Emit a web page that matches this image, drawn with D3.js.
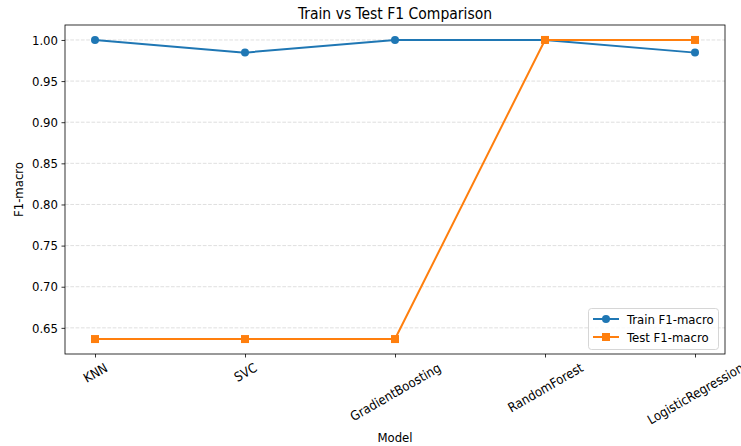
<!DOCTYPE html>
<html><head><meta charset="utf-8">
<script src="https://cdn.jsdelivr.net/npm/d3@7"></script>
<style>body{margin:0;background:#fff;} text{font-family:"DejaVu Sans Condensed","DejaVu Sans",sans-serif;font-stretch:condensed;fill:#000;}</style>
</head><body><svg id="c" width="741" height="446"></svg>
<script>
const models = ["KNN","SVC","GradientBoosting","RandomForest","LogisticRegression"];
const trainF1 = [1.0, 0.9846, 1.0, 1.0, 0.9846];
const testF1 = [0.6364, 0.6364, 0.6364, 1.0, 1.0];
const yTicks = [0.65,0.70,0.75,0.80,0.85,0.90,0.95,1.00];

const FONT = '"DejaVu Sans Condensed","DejaVu Sans",sans-serif';
const FS = 13;
const svg = d3.select("#c");
const L=65, R=725, T=25, B=354;
const allV = trainF1.concat(testF1);
const vmin = d3.min(allV), vmax = d3.max(allV), pad=(vmax-vmin)*0.05;
const x = d3.scaleLinear().domain([-0.2, models.length-1+0.2]).range([L,R]);
const y = d3.scaleLinear().domain([vmin-pad, vmax+pad]).range([B,T]);

// grid
svg.append("g").selectAll("line").data(yTicks).join("line")
  .attr("x1",L).attr("x2",R).attr("y1",d=>y(d)).attr("y2",d=>y(d))
  .attr("stroke","#b0b0b0").attr("stroke-opacity",0.5).attr("stroke-dasharray","3.7,1.6").attr("stroke-width",0.8);

// y axis
const ya = svg.append("g").attr("transform",`translate(${L},0)`)
  .call(d3.axisLeft(y).tickValues(yTicks).tickFormat(d3.format(".2f")).tickSize(3.5).tickPadding(3.5));
ya.select(".domain").remove();
ya.selectAll("line").attr("stroke","#000").attr("stroke-width",0.8);
ya.selectAll("text").attr("font-size",FS+"px").attr("font-family",FONT).attr("fill","#000");

// x axis
const xa = svg.append("g").attr("transform",`translate(0,${B})`)
  .call(d3.axisBottom(x).tickValues(d3.range(models.length)).tickFormat(i=>models[i]).tickSize(3.5));
xa.select(".domain").remove();
xa.selectAll("line").attr("stroke","#000").attr("stroke-width",0.8);
xa.selectAll("text").attr("font-size",FS+"px").attr("font-family",FONT).attr("fill","#000")
  .attr("text-anchor","middle").attr("dy",null).attr("y",null)
  .each(function(){
    const w=this.getComputedTextLength(), h=FS;
    const a=30*Math.PI/180;
    const halfH=(w*Math.sin(a)+h*Math.cos(a))/2;
    d3.select(this).attr("dominant-baseline","central")
      .attr("transform",`translate(0,${7+halfH}) rotate(-30)`);
  });

// frame
svg.append("rect").attr("x",L).attr("y",T).attr("width",R-L).attr("height",B-T)
  .attr("fill","none").attr("stroke","#000").attr("stroke-width",0.8);

// lines
const line = d3.line().x((d,i)=>x(i)).y(d=>y(d));
svg.append("path").datum(trainF1).attr("d",line).attr("fill","none").attr("stroke","#1f77b4").attr("stroke-width",2);
svg.append("g").selectAll("circle").data(trainF1).join("circle")
  .attr("cx",(d,i)=>x(i)).attr("cy",d=>y(d)).attr("r",4).attr("fill","#1f77b4");
svg.append("path").datum(testF1).attr("d",line).attr("fill","none").attr("stroke","#ff7f0e").attr("stroke-width",2);
svg.append("g").selectAll("rect").data(testF1).join("rect")
  .attr("x",(d,i)=>x(i)-4).attr("y",d=>y(d)-4).attr("width",8).attr("height",8).attr("fill","#ff7f0e");

// titles
svg.append("text").attr("x",(L+R)/2).attr("y",19).attr("text-anchor","middle").attr("font-size","15.5px").text("Train vs Test F1 Comparison");
svg.append("text").attr("x",(L+R)/2).attr("y",442).attr("text-anchor","middle").attr("font-size",FS+"px").text("Model");
svg.append("text").attr("transform",`translate(23,${(T+B)/2}) rotate(-90)`).attr("text-anchor","middle").attr("font-size",FS+"px").text("F1-macro");

// legend
const lg = svg.append("g");
lg.append("rect").attr("x",588.5).attr("y",308.5).attr("width",130).attr("height",41).attr("rx",3)
  .attr("fill","#fff").attr("fill-opacity",0.8).attr("stroke","#cccccc").attr("stroke-width",0.8);
const items=[{n:"Train F1-macro",c:"#1f77b4",m:"c"},{n:"Test F1-macro",c:"#ff7f0e",m:"s"}];
items.forEach((it,i)=>{
  const yy=319+i*18;
  lg.append("line").attr("x1",593).attr("x2",619).attr("y1",yy).attr("y2",yy).attr("stroke",it.c).attr("stroke-width",2);
  if(it.m==="c") lg.append("circle").attr("cx",606).attr("cy",yy).attr("r",4).attr("fill",it.c);
  else lg.append("rect").attr("x",602).attr("y",yy-4).attr("width",8).attr("height",8).attr("fill",it.c);
  lg.append("text").attr("x",627).attr("y",yy).attr("dy","0.35em").attr("font-size",FS+"px").text(it.n);
});
</script></body></html>
